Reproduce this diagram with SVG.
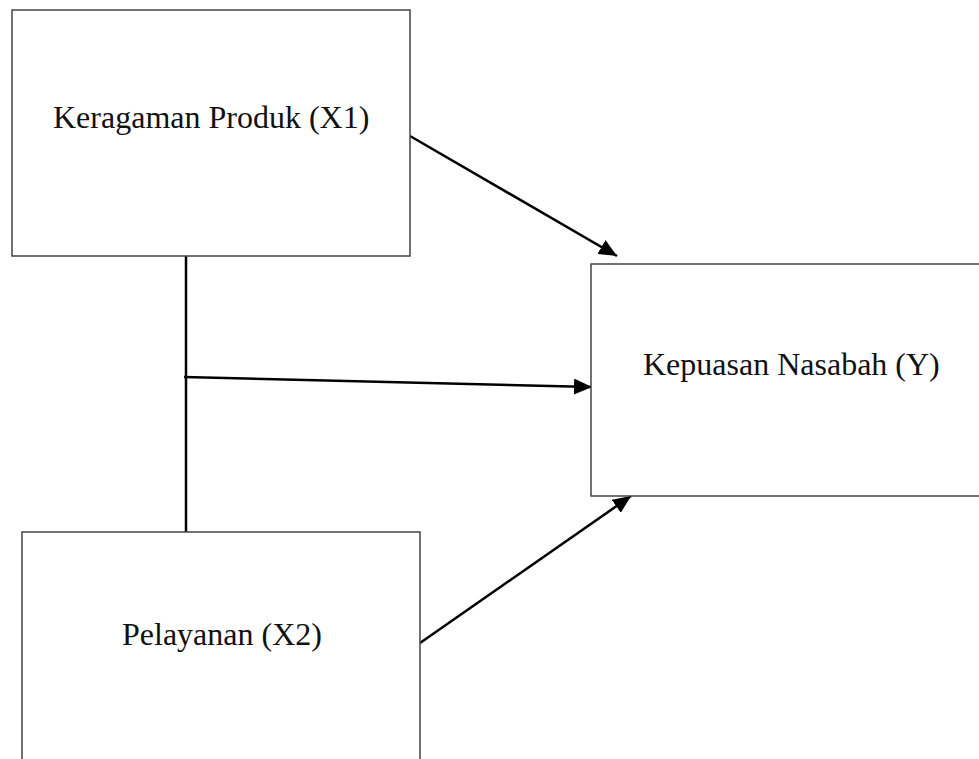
<svg xmlns="http://www.w3.org/2000/svg" width="979" height="759" viewBox="0 0 979 759">
<style>
.box{fill:#fff;stroke:#444;stroke-width:1.5}
.lbl{font-family:"Liberation Serif","Times New Roman",serif;font-size:32px;fill:#111}
.con{stroke:#000;stroke-width:2.5;fill:none}
</style>
<defs>
<marker id="ah" markerUnits="userSpaceOnUse" markerWidth="18" markerHeight="16" viewBox="0 0 18 16" refX="18" refY="8" orient="auto">
<path d="M0,0 L18,8 L0,16 Z" fill="#000"/>
</marker>
</defs>
<rect width="979" height="759" fill="#fff"/>
<g id="connectors">
<line class="con" x1="186" y1="256" x2="186" y2="532"/>
<line class="con" x1="410" y1="136" x2="617" y2="256" marker-end="url(#ah)"/>
<line class="con" x1="184" y1="377" x2="592" y2="387" marker-end="url(#ah)"/>
<line class="con" x1="420" y1="643" x2="631" y2="496" marker-end="url(#ah)"/>
</g>
<g id="x1">
<rect class="box" x="12" y="10" width="398" height="246"/>
<text class="lbl" x="53" y="128">Keragaman Produk (X1)</text>
</g>
<g id="y">
<rect class="box" x="591" y="264" width="395" height="232"/>
<text class="lbl" x="643" y="375">Kepuasan Nasabah (Y)</text>
</g>
<g id="x2">
<rect class="box" x="22" y="532" width="398" height="240"/>
<text class="lbl" x="122" y="645">Pelayanan (X2)</text>
</g>
</svg>
